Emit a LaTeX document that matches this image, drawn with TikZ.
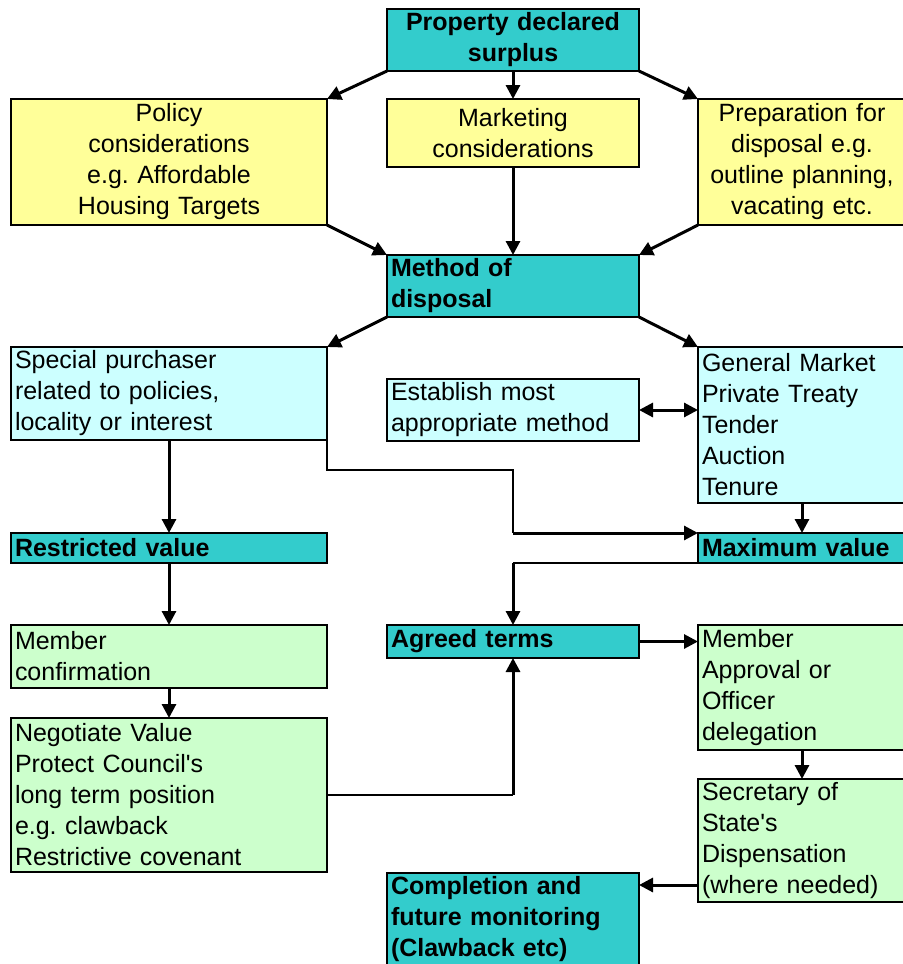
\documentclass[tikz,border=0pt]{standalone}
\usepackage{fontspec}
\setmainfont{Liberation Sans}
\usetikzlibrary{positioning, arrows.meta}
\frenchspacing

\definecolor{tealfill}{RGB}{51,204,204}
\definecolor{yellowfill}{RGB}{255,255,153}
\definecolor{bluefill}{RGB}{204,255,255}
\definecolor{greenfill}{RGB}{204,255,204}

\tikzset{
	box/.style={draw=black, line width=0.9pt, inner xsep=2pt, inner ysep=0.5pt,
		outer sep=0pt, anchor=north west, align=left,
		font=\fontsize{12.5pt}{15.5pt}\selectfont},
	colL/.style={text width=154pt},
	colM/.style={text width=122pt},
	colR/.style={text width=100pt},
	headbox/.style={box, fill=tealfill, font=\fontsize{12.5pt}{15.5pt}\selectfont\bfseries},
	yellowbox/.style={box, fill=yellowfill, align=center},
	bluebox/.style={box, fill=bluefill},
	greenbox/.style={box, fill=greenfill},
	arr/.style={line width=1.5pt, -{Triangle[length=7pt,width=7pt]}},
	route/.style={line width=0.6pt},
}

\begin{document}
\begin{tikzpicture}[x=0.5pt,y=-0.5pt]
		\useasboundingbox (0,0) rectangle (903,964);

		% top row
		\node[headbox,colM,align=center,minimum height=31pt] (surplus) at (387,9)
			{Property declared\\surplus};
		\node[yellowbox,colM,minimum height=34pt,below=14pt of surplus.south west,anchor=north west]
			(marketing){Marketing\\considerations};
		\node[yellowbox,colL,minimum height=63pt,left=30pt of marketing.north west,anchor=north east]
			(policy){Policy\\considerations\\e.g. Affordable\\Housing Targets};
		\node[yellowbox,colR,minimum height=63pt,right=29.5pt of marketing.north east,anchor=north west]
			(preparation){Preparation for\\disposal e.g.\\outline planning,\\vacating etc.};

		% method of disposal
		\node[headbox,colM,minimum height=31pt,below=44pt of marketing.south west,anchor=north west]
			(method){Method of\\disposal};
		\node[bluebox,colL,minimum height=46.5pt,below left=15pt and 30pt of method.south west,anchor=north east]
			(special){Special purchaser\\related to policies,\\locality or interest};
		\node[bluebox,colM,minimum height=31pt,below=31pt of method.south west,anchor=north west]
			(establish){Establish most\\appropriate method};
		\node[bluebox,colR,minimum height=78pt,below right=15pt and 29.5pt of method.south east,anchor=north west]
			(general){General Market\\Private Treaty\\Tender\\Auction\\Tenure};

		% values
		\node[headbox,colL,minimum height=15pt,below=46.5pt of special.south west,anchor=north west]
			(restricted){Restricted value};
		\node[headbox,colR,minimum height=15pt,below=15pt of general.south west,anchor=north west]
			(maximum){Maximum value};

		% terms
		\node[greenbox,colL,minimum height=31.5pt,below=31pt of restricted.south west,anchor=north west]
			(memberconf){Member\\confirmation};
		\node[headbox,colM,minimum height=16.5pt,right=30pt of memberconf.north east,anchor=north west]
			(agreed){Agreed terms};
		\node[greenbox,colR,minimum height=62.5pt,below=31pt of maximum.south west,anchor=north west]
			(approval){Member\\Approval or\\Officer\\delegation};
		\node[greenbox,colL,minimum height=77pt,below=15pt of memberconf.south west,anchor=north west]
			(negotiate){Negotiate Value\\Protect Council\textquotesingle s\\long term position\\e.g. clawback\\Restrictive covenant};
		\node[greenbox,colR,minimum height=61.5pt,below=14.5pt of approval.south west,anchor=north west]
			(secretary){Secretary of\\State\textquotesingle s\\Dispensation\\(where needed)};
		\node[headbox,colM,minimum height=46.5pt,below right=0.5pt and 30pt of negotiate.south east,anchor=north west]
			(completion){Completion and\\future monitoring\\(Clawback etc)};

		% arrows
		\draw[arr] (surplus.south west) -- (policy.north east);
		\draw[arr] (surplus.south) -- (marketing.north);
		\draw[arr] (surplus.south east) -- (preparation.north west);
		\draw[arr] (policy.south east) -- (method.north west);
		\draw[arr] (marketing.south) -- (method.north);
		\draw[arr] (preparation.south west) -- (method.north east);
		\draw[arr] (method.south west) -- (special.north east);
		\draw[arr] (method.south east) -- (general.north west);
		\draw[line width=1.5pt,{Triangle[length=7pt,width=7pt]}-{Triangle[length=7pt,width=7pt]}]
			(establish.east) -- (establish.east -| general.west);
		\draw[arr] (special.south) -- (restricted.north);
		\draw[arr] (general.south) -- (maximum.north);

		\coordinate (tomax) at (maximum.north west -| establish.south);
		\draw[route] (special.south east) -- ++(0,30) -| (tomax);
		\draw[arr] (tomax) -- (maximum.north west);

		\draw[arr] (restricted.south) -- (memberconf.north);
		\coordinate (frommax) at (maximum.south west -| agreed.north);
		\draw[route] (maximum.south west) -- (frommax);
		\draw[arr] (frommax) -- (agreed.north);
		\draw[arr] (agreed.east) -- (agreed.east -| approval.west);

		\draw[arr] (memberconf.south) -- (negotiate.north);
		\coordinate (fromneg) at (negotiate.east -| agreed.south);
		\draw[route] (negotiate.east) -- (fromneg);
		\draw[arr] (fromneg) -- (agreed.south);

		\draw[arr] (approval.south) -- (secretary.north);
		\coordinate (tocomp) at ([yshift=8.5pt]secretary.south west);
		\draw[arr] (tocomp) -- (tocomp -| completion.east);

\end{tikzpicture}
\end{document}
